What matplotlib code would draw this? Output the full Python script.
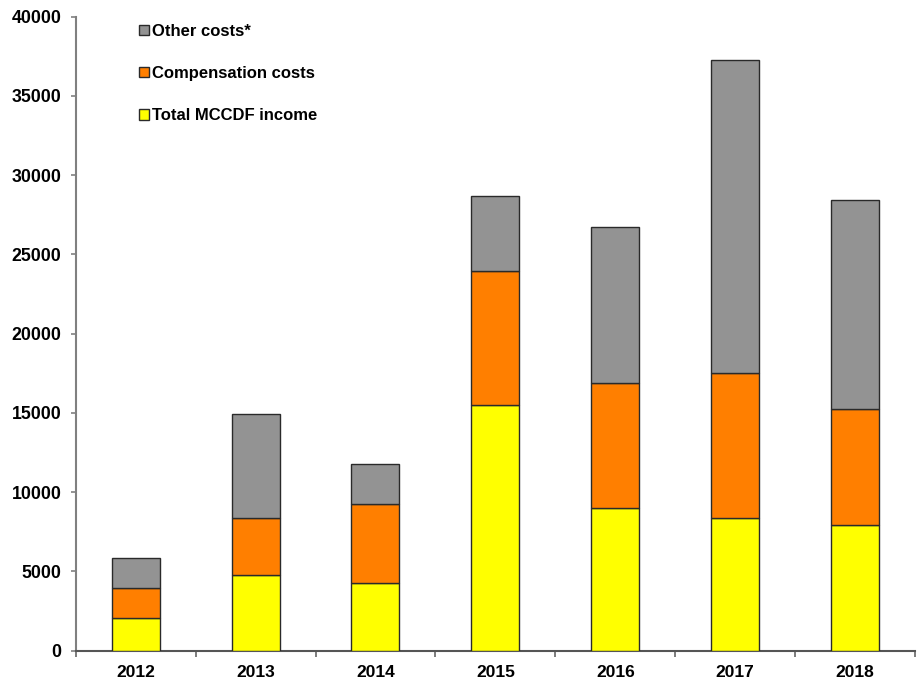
import matplotlib
matplotlib.use("Agg")
import matplotlib.pyplot as plt
import numpy as np

plt.rcParams['font.family'] = ['Liberation Sans', 'DejaVu Sans']
plt.rcParams['font.weight'] = 'bold'

years = ["2012", "2013", "2014", "2015", "2016", "2017", "2018"]
income = [2080, 4800, 4300, 15490, 8990, 8360, 7950]
compensation = [1860, 3580, 4960, 8480, 7930, 9190, 7290]
other = [1930, 6570, 2520, 4750, 9840, 19730, 13190]

series_labels = ["Total MCCDF income", "Compensation costs", "Other costs*"]
series_colors = ["#FFFF00", "#FF7F00", "#939393"]

fig = plt.figure(figsize=(9.2, 6.83), dpi=100)
ax = fig.add_axes([0.0823, 0.0473, 0.9946 - 0.0823, 0.9755 - 0.0473])

x = np.arange(len(years))
bottom = np.zeros(len(years))
handles = []
for vals, lab, col in zip([income, compensation, other], series_labels, series_colors):
    h = ax.bar(x, vals, width=0.4, bottom=bottom, color=col, edgecolor="#2a2a2a",
               linewidth=1.0, label=lab, zorder=3)
    handles.append(h)
    bottom += np.array(vals)

ax.set_xlim(-0.5, len(years) - 0.5)
ax.set_ylim(0, 40000)
ax.set_yticks(np.arange(0, 40001, 5000))
ax.set_yticklabels([str(v) for v in range(0, 40001, 5000)], fontsize=12.8, fontweight='bold')

# boundary ticks between categories, labels centred under bars
ax.set_xticks(np.arange(-0.5, len(years), 1.0))
ax.set_xticklabels([])
ax.set_xticks(x, minor=True)
ax.set_xticklabels(years, minor=True, fontsize=12.5, fontweight='bold')
ax.tick_params(axis='x', which='major', direction='out', length=4.5, width=1.2, color="#666666")
ax.tick_params(axis='x', which='minor', length=0, pad=10.5)
ax.tick_params(axis='y', direction='out', length=3.3, width=1.2, color="#808080", pad=7)

for s in ["top", "right"]:
    ax.spines[s].set_visible(False)
ax.spines["left"].set_color("#808080")
ax.spines["left"].set_linewidth(1.5)
ax.spines["bottom"].set_color("#555555")
ax.spines["bottom"].set_linewidth(1.5)

leg = ax.legend(handles[::-1], series_labels[::-1], loc="upper left",
                bbox_to_anchor=(139 / 920, 1 - 24 / 683), bbox_transform=fig.transFigure,
                frameon=False, fontsize=12, handlelength=0.58, handleheight=0.58,
                handletextpad=0.2, labelspacing=1.63, borderpad=0, borderaxespad=0)
for t in leg.get_texts():
    t.set_fontweight('bold')

fig.savefig("out.png", dpi=100)
